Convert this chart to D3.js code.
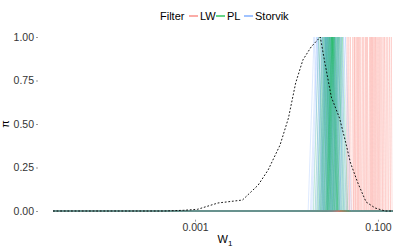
<!DOCTYPE html>
<html>
<head>
<meta charset="utf-8">
<script src="https://cdn.jsdelivr.net/npm/d3@7"></script>
<style>
  body { margin: 0; background: #fff; }
  text { font-family: "Liberation Sans", Arial, sans-serif; }
</style>
</head>
<body>
<svg id="chart" width="415" height="249"></svg>
<script>
// grid extent of W1 (all curves evaluated over this range)
var wRange = [2.8e-5, 0.146];

// peak location of each normalised curve, per filter (34 runs each)
var lwPeaks = [0.046, 0.048, 0.050, 0.053, 0.055, 0.056, 0.058, 0.060, 0.061, 0.063, 0.065, 0.068,
               0.070, 0.073, 0.075, 0.077, 0.081, 0.083, 0.085, 0.087, 0.089, 0.092, 0.094, 0.097,
               0.100, 0.103, 0.106, 0.110, 0.114, 0.118, 0.123, 0.128, 0.134, 0.140];
var plPeaks = [0.0225, 0.0235, 0.0245, 0.025, 0.0255, 0.026, 0.0265, 0.0268, 0.027, 0.0275, 0.0278,
               0.028, 0.0285, 0.029, 0.0292, 0.0295, 0.030, 0.0305, 0.0308, 0.031, 0.0315, 0.0315,
               0.032, 0.0322, 0.0325, 0.033, 0.0335, 0.034, 0.035, 0.036, 0.037, 0.038, 0.0395, 0.041];
var stPeaks = [0.020, 0.0212, 0.0218, 0.0225, 0.0238, 0.0245, 0.025, 0.026, 0.0265, 0.027, 0.0275,
               0.028, 0.0285, 0.029, 0.0295, 0.030, 0.0305, 0.031, 0.0315, 0.032, 0.0325, 0.033,
               0.0335, 0.034, 0.0345, 0.035, 0.036, 0.0365, 0.037, 0.038, 0.039, 0.040, 0.042, 0.044];
// ratio from peak to where each curve falls back to 0
var lwSpread = 1.02, plSpread = 1.14, stSpread = 1.16;

// reference posterior (dashed), W1 and scaled density
var refW = [2.8e-5, 4.6e-4, 7.5e-4, 1.07e-3, 1.78e-3, 3.3e-3, 4.9e-3, 6.3e-3, 8.5e-3, 0.0105, 0.0126,
            0.0151, 0.0186, 0.0234, 0.0263, 0.0309, 0.038, 0.0437, 0.0501, 0.0603, 0.0741,
            0.0933, 0.12, 0.146];
var refP = [0, 0, 0.004, 0.01, 0.046, 0.063, 0.149, 0.236, 0.379, 0.534, 0.736, 0.868, 0.943, 1.0,
            0.851, 0.655, 0.534, 0.408, 0.276, 0.161, 0.052, 0.017, 0, 0];

var filters = ["LW", "PL", "Storvik"];
var colours = ["#F8766D", "#00BA38", "#619CFF"];
var yTicks = [0, 0.25, 0.5, 0.75, 1];
var xTicks = [0.001, 0.1];

var svg = d3.select("#chart");
var pLeft = 38, pRight = 412, pTop = 28.3, pBottom = 219.7;

// ggplot-style 5% expansion on both axes
var lx = wRange.map(Math.log10), ex = (lx[1] - lx[0]) * 0.05;
var x = d3.scaleLog().domain([Math.pow(10, lx[0] - ex), Math.pow(10, lx[1] + ex)]).range([pLeft - 2, pRight - 2]);
var y = d3.scaleLinear().domain([-0.05, 1.05]).range([pBottom, pTop]);

var line = d3.line().x(d => x(d[0])).y(d => y(d[1]));

function peakCurve(c, s) {
    return [[wRange[0], 0], [c / s, 0], [c, 1], [c * s, 0], [wRange[1], 0]];
}

// runs are drawn interleaved (run 1 of each filter, then run 2, ...)
var groups = [[lwPeaks, lwSpread], [plPeaks, plSpread], [stPeaks, stSpread]];
var runs = [];
var nMax = d3.max(groups, g => g[0].length);
for (var k = 0; k < nMax; k++) {
    groups.forEach(function(g, i) {
        if (k < g[0].length) runs.push({ f: i, pts: peakCurve(g[0][k], g[1]) });
    });
}
svg.append("g").selectAll("path").data(runs).enter().append("path")
    .attr("d", d => line(d.pts))
    .attr("fill", "none").attr("stroke", d => colours[d.f])
    .attr("stroke-width", 0.9).attr("stroke-opacity", 0.24);

svg.append("path")
    .attr("d", line(refW.map((w, i) => [w, refP[i]])))
    .attr("fill", "none").attr("stroke", "#000").attr("stroke-width", 0.9)
    .attr("stroke-dasharray", "1.8,1.8");

// axes
var yAxis = svg.append("g").attr("transform", "translate(" + pLeft + ",0)")
    .call(d3.axisLeft(y).tickValues(yTicks).tickFormat(d3.format(".2f")).tickSize(2).tickPadding(2));
var xAxis = svg.append("g").attr("transform", "translate(0," + pBottom + ")")
    .call(d3.axisBottom(x).tickValues(xTicks).tickFormat(d3.format(".3f")).tickSize(2).tickPadding(2));
[yAxis, xAxis].forEach(function(a) {
    a.select(".domain").remove();
    a.selectAll("line").attr("stroke", "#555").attr("stroke-width", 0.6);
    a.selectAll("text").attr("fill", "#333").style("font-size", "10.5px")
        .style("font-family", "'Liberation Sans', Arial, sans-serif");
});

// axis titles
var xt = svg.append("text").attr("x", (pLeft + pRight) / 2).attr("y", 243)
    .attr("text-anchor", "middle").style("font-size", "11px");
xt.append("tspan").text("W");
xt.append("tspan").attr("dy", 3).style("font-size", "8px").text("1");

svg.append("text").attr("transform", "translate(9," + (pTop + pBottom) / 2 + ") rotate(-90)")
    .attr("text-anchor", "middle").style("font-size", "11px").text("π");

// legend
var lg = svg.append("g").attr("transform", "translate(160,16)");
lg.append("text").attr("x", 0).attr("y", 4).style("font-size", "11px").text("Filter");
var keyX = [29, 56, 84];
filters.forEach(function(f, i) {
    lg.append("line").attr("x1", keyX[i]).attr("x2", keyX[i] + 9).attr("y1", 0).attr("y2", 0)
        .attr("stroke", colours[i]).attr("stroke-width", 1.2);
    lg.append("text").attr("x", keyX[i] + 11).attr("y", 4).style("font-size", "11px").text(f);
});
</script>
</body>
</html>
